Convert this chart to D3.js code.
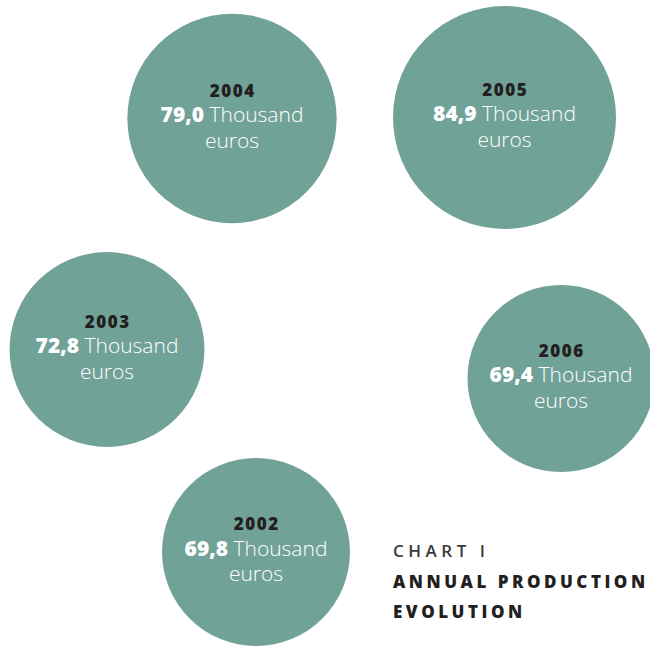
<!DOCTYPE html>
<html>
<head>
<meta charset="utf-8">
<script src="https://cdn.jsdelivr.net/npm/d3@7"></script>
<style>
  html, body { margin: 0; padding: 0; background: #ffffff; }
  svg { display: block; }
</style>
</head>
<body>
<svg id="chart" width="650" height="646"></svg>
<script>
// ---- data ----
const years = ["2002", "2003", "2004", "2005", "2006"];
const values = [69.8, 72.8, 79.0, 84.9, 69.4];
const unitWord = "Thousand";
const unitWord2 = "euros";
const titleLines = ["CHART I", "ANNUAL PRODUCTION", "EVOLUTION"];

// ---- layout (bubble placement) ----
const centers = [[256, 552], [107, 349.5], [232, 118.5], [504.5, 117.5], [561, 378.5]];

const W = 650, H = 646;
const svg = d3.select("#chart");

const r = d3.scaleLinear()
  .domain([d3.min(values), d3.max(values)])
  .range([93.5, 111.5]);

const fmt = v => d3.format(".1f")(v).replace(".", ",");

const data = years.map((y, i) => ({ year: y, value: values[i], cx: centers[i][0], cy: centers[i][1] }));

const g = svg.selectAll("g.bubble").data(data).join("g")
  .attr("class", "bubble")
  .attr("transform", d => `translate(${d.cx},${d.cy})`);

g.append("circle")
  .attr("r", d => r(d.value))
  .attr("fill", "#70a297");

const font = "'Open Sans', 'Noto Sans', sans-serif";

g.append("text")
  .attr("y", -22)
  .attr("dx", 0.75)
  .attr("text-anchor", "middle")
  .attr("font-family", font)
  .attr("font-weight", 800)
  .attr("font-size", 17)
  .attr("letter-spacing", 1.5)
  .attr("fill", "#231f20")
  .text(d => d.year);

const l2 = g.append("text")
  .attr("y", 3.5)
  .attr("text-anchor", "middle")
  .attr("font-family", font)
  .attr("font-size", 21)
  .attr("fill", "#ffffff");
l2.append("tspan").attr("font-weight", 800).text(d => fmt(d.value));
l2.append("tspan").attr("font-weight", 300).text(" " + unitWord);

g.append("text")
  .attr("y", 29)
  .attr("text-anchor", "middle")
  .attr("font-family", font)
  .attr("font-weight", 300)
  .attr("font-size", 21)
  .attr("fill", "#ffffff")
  .text(unitWord2);

// ---- title ----
const title = svg.append("g").attr("transform", "translate(393,0)");
title.selectAll("text").data(titleLines).join("text")
  .attr("x", 0)
  .attr("y", (d, i) => [557, 588, 618][i])
  .attr("font-family", font)
  .attr("font-weight", (d, i) => i === 0 ? 600 : 800)
  .attr("font-size", 17)
  .attr("letter-spacing", (d, i) => i === 0 ? 4.5 : 3.5)
  .attr("fill", (d, i) => i === 0 ? "#3a3a3a" : "#231f20")
  .text(d => d);
</script>
</body>
</html>
